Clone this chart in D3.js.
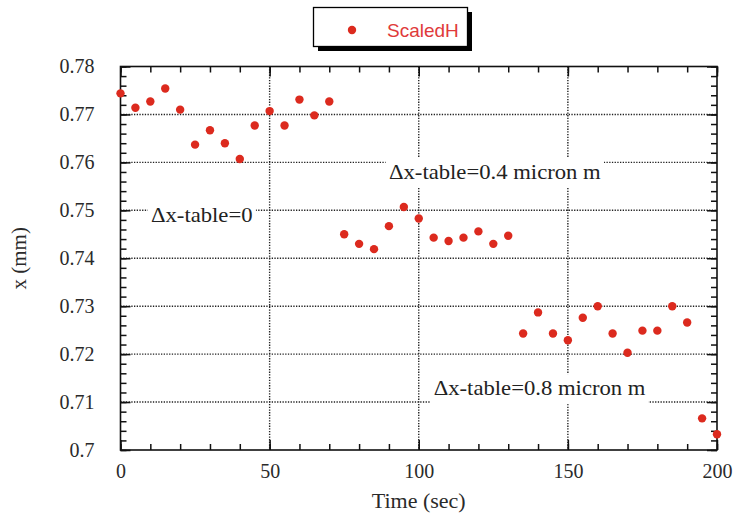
<!DOCTYPE html>
<html>
<head>
<meta charset="utf-8">
<script src="https://cdn.jsdelivr.net/npm/d3@7"></script>
<style>
  html, body { margin: 0; padding: 0; background: #fff; }
  svg { display: block; }
</style>
</head>
<body>
<svg id="chart" width="734" height="517"></svg>
<script>
// ---- data ----
const times = [0, 5, 10, 15, 20, 25, 30, 35, 40, 45, 50, 55, 60, 65, 70,
  75, 80, 85, 90, 95, 100, 105, 110, 115, 120, 125, 130,
  135, 140, 145, 150, 155, 160, 165, 170, 175, 180, 185, 190, 195, 200];
const scaledH = [0.7744, 0.7714, 0.7727, 0.7754, 0.7710, 0.7637, 0.7667, 0.7640, 0.7607, 0.7677,
  0.7707, 0.7677, 0.7731, 0.7698, 0.7727,
  0.7450, 0.7430, 0.7419, 0.7467, 0.7507, 0.7483, 0.7443, 0.7436, 0.7443, 0.7456, 0.7430, 0.7447,
  0.7243, 0.7287, 0.7243, 0.7229, 0.7276, 0.7300, 0.7243, 0.7203, 0.7249, 0.7249, 0.7300, 0.7266,
  0.7066, 0.7033];
const seriesName = "ScaledH";
const xTickValues = [0, 50, 100, 150, 200];
const xTickLabels = ["0", "50", "100", "150", "200"];
const yTickValues = [0.70, 0.71, 0.72, 0.73, 0.74, 0.75, 0.76, 0.77, 0.78];
const yTickLabels = ["0.7", "0.71", "0.72", "0.73", "0.74", "0.75", "0.76", "0.77", "0.78"];
const xLabel = "Time (sec)";
const yLabel = "x (mm)";
const annotationTexts = ["\u0394x-table=0", "\u0394x-table=0.4 micron m", "\u0394x-table=0.8 micron m"];
const annotationT = [10.2, 90, 105];
const annotationV = [0.7475, 0.7565, 0.7114];

// ---- layout ----
const svg = d3.select("#chart");
const L = 120.5, R = 717, T = 66.5, B = 450;
const x = d3.scaleLinear().domain([0, 200]).range([L, R]);
const y = d3.scaleLinear().domain([0.70, 0.78]).range([B, T]);
const serif = "'Liberation Serif', 'Times New Roman', serif";
const dotColor = "#dc2a1e";

// grid (dotted) at interior major ticks
const grid = svg.append("g");
grid.selectAll("line.gx").data(xTickValues.slice(1, -1)).enter().append("line")
  .attr("x1", d => x(d)).attr("x2", d => x(d)).attr("y1", T).attr("y2", B)
  .attr("stroke", "#222").attr("stroke-width", 1.4).attr("stroke-dasharray", "1.3,1.4");
grid.selectAll("line.gy").data(yTickValues.slice(1, -1)).enter().append("line")
  .attr("y1", d => y(d)).attr("y2", d => y(d)).attr("x1", L).attr("x2", R)
  .attr("stroke", "#222").attr("stroke-width", 1.4).attr("stroke-dasharray", "1.3,1.4");

// annotations with white background
const ann = svg.append("g");
annotationTexts.forEach((s, i) => {
  const g = ann.append("g")
    .attr("transform", `translate(${x(annotationT[i])},${y(annotationV[i])}) scale(1.08,1)`);
  const rect = g.append("rect").attr("fill", "#fff");
  const txt = g.append("text")
    .attr("x", 0).attr("y", 0)
    .attr("font-family", serif).attr("font-size", 21)
    .attr("fill", "#222")
    .text(s);
  const bb = txt.node().getBBox();
  rect.attr("x", bb.x - 3).attr("y", bb.y - 3).attr("width", bb.width + 6).attr("height", bb.height + 7);
});

// axes
const fmtX = (d) => xTickLabels[xTickValues.indexOf(d)];
const fmtY = (d) => {
  const i = yTickValues.findIndex(v => Math.abs(v - d) < 1e-9);
  return i >= 0 ? yTickLabels[i] : "";
};
const xMinor = d3.range(0, 201, 10);
const yMinor = d3.range(0, 41).map(i => 0.70 + i * 0.002);

function styleAxis(g) {
  g.select(".domain").remove();
  g.selectAll(".tick line").attr("stroke", "#111").attr("stroke-width", 1.5);
  g.selectAll(".tick text").attr("font-family", serif).attr("font-size", 20).attr("fill", "#2a2a2a");
}

// bottom
svg.append("g").attr("transform", `translate(0,${B})`)
  .call(d3.axisBottom(x).tickValues(xMinor).tickSize(-6).tickFormat("")).call(styleAxis);
svg.append("g").attr("transform", `translate(0,${B})`)
  .call(d3.axisBottom(x).tickValues(xTickValues).tickSize(-10).tickPadding(14).tickFormat(fmtX)).call(styleAxis);
// top
svg.append("g").attr("transform", `translate(0,${T})`)
  .call(d3.axisTop(x).tickValues(xMinor).tickSize(-6).tickFormat("")).call(styleAxis);
svg.append("g").attr("transform", `translate(0,${T})`)
  .call(d3.axisTop(x).tickValues(xTickValues).tickSize(-10).tickFormat("")).call(styleAxis);
// left
svg.append("g").attr("transform", `translate(${L},0)`)
  .call(d3.axisLeft(y).tickValues(yMinor).tickSize(-6).tickFormat("")).call(styleAxis);
svg.append("g").attr("transform", `translate(${L},0)`)
  .call(d3.axisLeft(y).tickValues(yTickValues).tickSize(-10).tickPadding(26).tickFormat(fmtY)).call(styleAxis);
// right
svg.append("g").attr("transform", `translate(${R},0)`)
  .call(d3.axisRight(y).tickValues(yMinor).tickSize(-6).tickFormat("")).call(styleAxis);
svg.append("g").attr("transform", `translate(${R},0)`)
  .call(d3.axisRight(y).tickValues(yTickValues).tickSize(-10).tickFormat("")).call(styleAxis);

// frame
svg.append("rect").attr("x", L).attr("y", T).attr("width", R - L).attr("height", B - T)
  .attr("fill", "none").attr("stroke", "#111").attr("stroke-width", 1.6);

// axis labels
svg.append("text").attr("x", (L + R) / 2).attr("y", 508)
  .attr("text-anchor", "middle").attr("font-family", serif).attr("font-size", 22)
  .attr("fill", "#2a2a2a").text(xLabel);
svg.append("text").attr("transform", `translate(26,${(T + B) / 2}) rotate(-90)`)
  .attr("text-anchor", "middle").attr("font-family", serif).attr("font-size", 21)
  .attr("fill", "#2a2a2a").text(yLabel);

// points
svg.append("g").selectAll("circle").data(times).enter().append("circle")
  .attr("cx", (d) => x(d)).attr("cy", (d, i) => y(scaledH[i]))
  .attr("r", 4.2).attr("fill", dotColor);

// legend
const lg = svg.append("g");
lg.append("rect").attr("x", 318).attr("y", 12).attr("width", 154).attr("height", 39).attr("fill", "#000");
lg.append("rect").attr("x", 313.5).attr("y", 7.5).attr("width", 154).attr("height", 39)
  .attr("fill", "#fff").attr("stroke", "#000").attr("stroke-width", 1.3);
lg.append("circle").attr("cx", 352).attr("cy", 30).attr("r", 4.2).attr("fill", dotColor);
lg.append("text").attr("x", 387).attr("y", 36.5)
  .attr("font-family", "'Liberation Sans', Arial, sans-serif").attr("font-size", 19)
  .attr("fill", "#e03a3a").text(seriesName);
</script>
</body>
</html>
